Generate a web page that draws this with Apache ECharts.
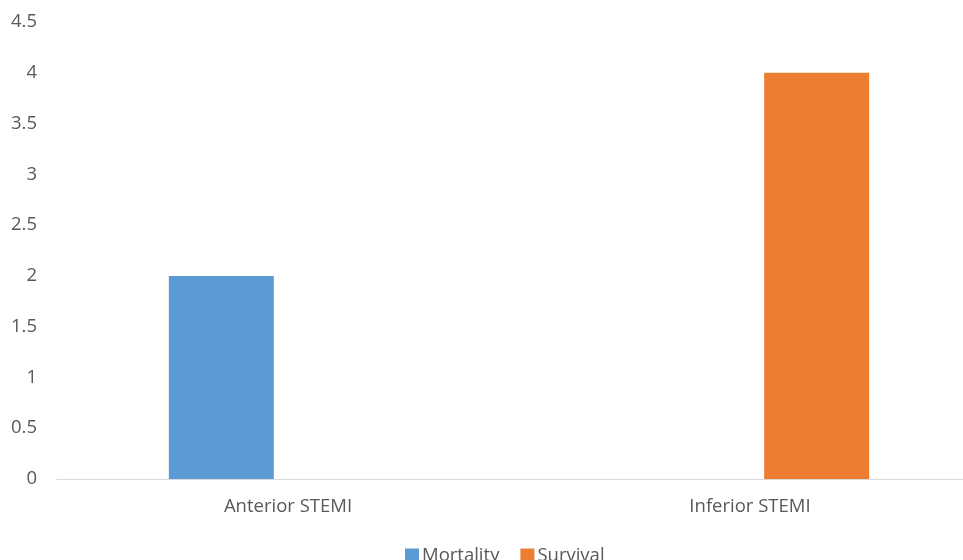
<!DOCTYPE html>
<html>
<head>
<meta charset="utf-8">
<script src="https://cdn.jsdelivr.net/npm/echarts@6/dist/echarts.min.js"></script>
<style>html,body{margin:0;padding:0;background:#fff;overflow:hidden;}#c{width:990px;height:560px;}</style>
</head>
<body>
<div id="c"></div>
<script>
const categories = ['Anterior STEMI', 'Inferior STEMI'];
const mortality = [2, null];
const survival = [null, 4];
const yTicks = ['0', '0.5', '1', '1.5', '2', '2.5', '3', '3.5', '4', '4.5'];

const FONT = 'Open Sans';
const FS = 18.5;
const chart = echarts.init(document.getElementById('c'), null, {renderer: 'canvas'});
chart.setOption({
  animation: false,
  textStyle: {fontFamily: FONT},
  grid: {left: 57, right: 9, top: 22, bottom: 81, containLabel: false},
  legend: {
    data: ['Mortality', 'Survival'],
    left: 400,
    top: 541,
    itemWidth: 14,
    itemHeight: 14,
    itemGap: 21,
    icon: 'rect',
    textStyle: {color: '#595959', fontSize: FS, fontFamily: FONT, padding: [0, 0, 4, -2]}
  },
  xAxis: {
    type: 'category',
    data: categories,
    axisLine: {lineStyle: {color: '#D9D9D9', width: 1}},
    axisTick: {show: false},
    axisLabel: {color: '#595959', fontSize: FS, fontFamily: FONT, margin: 18}
  },
  yAxis: {
    type: 'value',
    min: 0,
    max: 4.5,
    interval: 0.5,
    axisLine: {show: false},
    axisTick: {show: false},
    splitLine: {show: false},
    axisLabel: {
      color: '#595959', fontSize: FS, fontFamily: FONT, margin: 20,
      formatter: function (v) { const i = Math.round(v / 0.5); return yTicks[i]; }
    }
  },
  series: [
    {name: 'Mortality', type: 'bar', data: mortality, barWidth: 105, barGap: '27%', itemStyle: {color: '#5B9BD5'}},
    {name: 'Survival', type: 'bar', data: survival, barWidth: 105, barGap: '27%', itemStyle: {color: '#ED7D31'}}
  ]
});
</script>
</body>
</html>
